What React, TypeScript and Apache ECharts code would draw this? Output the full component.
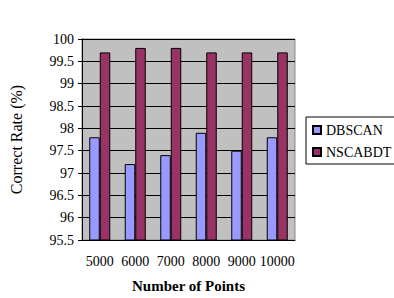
import React, { useEffect, useRef } from "react";
import * as echarts from "echarts";

const categories = ["5000", "6000", "7000", "8000", "9000", "10000"];
const dbscan = [97.8, 97.2, 97.4, 97.9, 97.5, 97.8];
const nscabdt = [99.7, 99.8, 99.8, 99.7, 99.7, 99.7];
const seriesNames = ["DBSCAN", "NSCABDT"];

const FONT = "'Liberation Serif', 'Times New Roman', serif";

export default function App() {
  const ref = useRef<HTMLDivElement>(null);
  useEffect(() => {
    if (!ref.current) return;
    const chart = echarts.init(ref.current, null, { renderer: "svg" });
    chart.setOption({
      animation: false,
      backgroundColor: "#ffffff",
      textStyle: { fontFamily: FONT, color: "#000" },
      grid: {
        left: 72,
        right: 99,
        top: 39,
        bottom: 57,
        show: true,
        backgroundColor: "#c0c0c0",
        borderColor: "#8a8a8a",
        borderWidth: 1,
      },
      legend: {
        orient: "vertical",
        left: 306,
        top: 117,
        padding: [6, 4, 5, 6],
        borderColor: "#000",
        borderWidth: 1,
        itemWidth: 8,
        itemHeight: 8,
        itemGap: 8,
        itemTextGap: 8,
        icon: "rect",
        textStyle: { fontFamily: FONT, fontSize: 14, color: "#000" },
        data: seriesNames,
      },
      xAxis: {
        type: "category",
        data: categories,
        name: "Number of Points",
        nameLocation: "middle",
        nameGap: 38,
        nameTextStyle: { fontFamily: FONT, fontSize: 15, fontWeight: "bold", color: "#000" },
        axisLine: { lineStyle: { color: "#000", width: 1 } },
        axisTick: { inside: true, length: 4, lineStyle: { color: "#000" } },
        axisLabel: { fontFamily: FONT, fontSize: 14, color: "#000", margin: 14, interval: 0 },
      },
      yAxis: {
        type: "value",
        min: 95.5,
        max: 100,
        interval: 0.5,
        name: "Correct Rate (%)",
        nameLocation: "middle",
        nameGap: 58,
        nameTextStyle: { fontFamily: FONT, fontSize: 16, color: "#000" },
        axisLine: { show: true, lineStyle: { color: "#000", width: 1 } },
        axisTick: { show: true, length: 4, lineStyle: { color: "#000" } },
        axisLabel: { fontFamily: FONT, fontSize: 14, color: "#000", margin: 8 },
        splitLine: { show: true, lineStyle: { color: "#000", width: 1 } },
      },
      series: [
        {
          name: seriesNames[0],
          type: "bar",
          data: dbscan,
          barWidth: 10.5,
          barGap: "0%",
          itemStyle: { color: "#9999ff", borderColor: "#000", borderWidth: 1 },
        },
        {
          name: seriesNames[1],
          type: "bar",
          data: nscabdt,
          barWidth: 10.5,
          barGap: "0%",
          itemStyle: { color: "#993366", borderColor: "#000", borderWidth: 1 },
        },
      ],
    });
    return () => chart.dispose();
  }, []);
  return (
    <div
      ref={ref}
      style={{ position: "absolute", left: 0, top: 0, width: 394, height: 298 }}
    />
  );
}
